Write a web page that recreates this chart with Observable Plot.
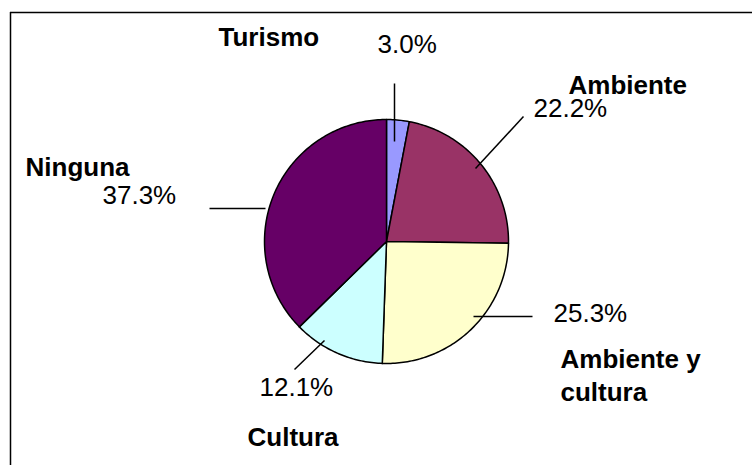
<!DOCTYPE html>
<html>
<head>
<meta charset="utf-8">
<script src="https://cdn.jsdelivr.net/npm/d3@7"></script>
<script src="https://cdn.jsdelivr.net/npm/@observablehq/plot@0.6"></script>
<style>
  html, body { margin: 0; padding: 0; background: #fff; }
  #chart svg { display: block; }
</style>
</head>
<body>
<div id="chart"></div>
<script>
// ---- data ----
const categories = ["Turismo", "Ambiente", "Ambiente y cultura", "Cultura", "Ninguna"];
const displayNames = ["Turismo", "Ambiente", "Ambiente y\ncultura", "Cultura", "Ninguna"];
const values = [3.0, 22.2, 25.3, 12.1, 37.3];
const percentLabels = ["3.0%", "22.2%", "25.3%", "12.1%", "37.3%"];
const colors = ["#9999FF", "#993366", "#FFFFCC", "#CCFFFF", "#660066"];

// ---- layout (pixel space) ----
const W = 752, H = 465;
const pieCenter = [386, 241];
const pieRadius = 122;
const namePos = [[218, 45], [568, 93], [560, 400], [247, 445], [25, 175]];
const pctPos = [[377, 52], [533, 116], [553, 321], [259, 395], [102, 203]];
const leaderPos = [
  [[394, 83], [394, 141]],
  [[523, 116], [475, 168]],
  [[532, 316], [473, 316]],
  [[294, 369], [324, 340]],
  [[209, 208], [265, 208]]
];

// ---- build slice polygons from the data via d3.pie ----
const arcs = d3.pie().sort(null)(values);
const slicePts = [];
arcs.forEach((a, i) => {
  const cat = categories[i];
  const [cx, cy] = pieCenter;
  slicePts.push({cat, x: cx, y: cy});
  const n = Math.max(4, Math.ceil((a.endAngle - a.startAngle) / (Math.PI / 180)));
  for (let k = 0; k <= n; k++) {
    const t = a.startAngle + (a.endAngle - a.startAngle) * k / n;
    slicePts.push({cat, x: cx + pieRadius * Math.sin(t), y: cy - pieRadius * Math.cos(t)});
  }
  slicePts.push({cat, x: cx, y: cy});
});

const names = categories.map((c, i) => ({cat: c, text: displayNames[i], x: namePos[i][0], y: namePos[i][1]}));
const pcts = categories.map((c, i) => ({cat: c, text: percentLabels[i], x: pctPos[i][0], y: pctPos[i][1]}));
const leaders = categories.map((c, i) => ({cat: c, x1: leaderPos[i][0][0], y1: leaderPos[i][0][1], x2: leaderPos[i][1][0], y2: leaderPos[i][1][1]}));

const font = "'Liberation Sans', Arial, Helvetica, sans-serif";

const chart = Plot.plot({
  width: W,
  height: H,
  margin: 0,
  x: {domain: [0, W], range: [0, W], axis: null},
  y: {domain: [0, H], range: [0, H], axis: null},
  color: {type: "ordinal", domain: categories, range: colors},
  style: {fontFamily: font, background: "#fff", overflow: "hidden"},
  marks: [
    // chart-area frame (left and top edges visible)
    Plot.ruleX([10], {y1: 12, y2: H, stroke: "#000", strokeWidth: 1.5}),
    Plot.ruleY([12], {x1: 10, x2: W, stroke: "#000", strokeWidth: 1.5}),
    Plot.line(slicePts, {x: "x", y: "y", z: "cat", fill: "cat", stroke: "#000", strokeWidth: 1.5, strokeLinejoin: "round", curve: "linear"}),
    Plot.link(leaders, {x1: "x1", y1: "y1", x2: "x2", y2: "y2", stroke: "#000", strokeWidth: 1.5}),
    Plot.text(names, {x: "x", y: "y", text: "text", textAnchor: "start", lineAnchor: "bottom", lineHeight: 1.25, fontSize: 26, fontWeight: "bold", fill: "#000"}),
    Plot.text(pcts, {x: "x", y: "y", text: "text", textAnchor: "start", lineAnchor: "bottom", fontSize: 26, fill: "#000"})
  ]
});
document.getElementById("chart").appendChild(chart);
</script>
</body>
</html>
